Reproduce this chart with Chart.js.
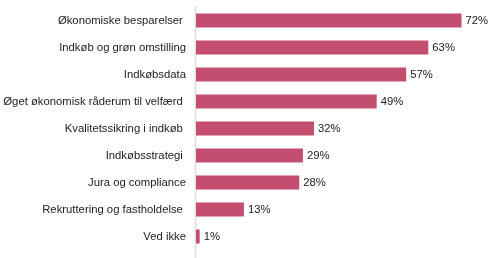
<html>
  <head>
    <script src="https://cdn.jsdelivr.net/npm/chart.js@4/dist/chart.umd.min.js"></script>
    <style>
      body { margin: 0; background: #fff; }
      #wrap { width: 499px; height: 258px; }
    </style>
  </head>
  <body>
    <div id="wrap"><canvas id="bar-chart"></canvas></div>
    <script>
      // categories (trailing spaces kept as in the source labels)
      var categories = [
        'Økonomiske besparelser ',
        'Indkøb og grøn omstilling',
        'Indkøbsdata',
        'Øget økonomisk råderum til velfærd ',
        'Kvalitetssikring i indkøb ',
        'Indkøbsstrategi ',
        'Jura og compliance',
        'Rekruttering og fastholdelse ',
        'Ved ikke'
      ]
      var shares = [72, 63, 57, 49, 32, 29, 28, 13, 1]

      var barColor = '#c44e70'
      var textColor = '#222222'
      var fontFamily = '"Liberation Sans", Arial, sans-serif'
      var fontSize = 11.3

      // value labels at the end of each bar
      var valueLabels = {
        id: 'valueLabels',
        afterDatasetsDraw: function (chart) {
          var ctx = chart.ctx
          var meta = chart.getDatasetMeta(0)
          ctx.save()
          ctx.font = fontSize + 'px ' + fontFamily
          ctx.fillStyle = textColor
          ctx.textAlign = 'left'
          ctx.textBaseline = 'middle'
          meta.data.forEach(function (bar, i) {
            ctx.fillText(shares[i] + '%', bar.x + 4, bar.y + 0.5)
          })
          ctx.restore()
        }
      }

      // grey axis line running down to the bottom edge
      var axisLine = {
        id: 'axisLine',
        beforeDatasetsDraw: function (chart) {
          var ctx = chart.ctx
          var a = chart.chartArea
          ctx.save()
          ctx.strokeStyle = '#e3e3e3'
          ctx.lineWidth = 2
          ctx.beginPath()
          ctx.moveTo(a.left - 0.5, a.top - 1)
          ctx.lineTo(a.left - 0.5, chart.height)
          ctx.stroke()
          ctx.restore()
        }
      }

      new Chart(document.getElementById('bar-chart'), {
        type: 'bar',
        data: {
          labels: categories,
          datasets: [
            {
              data: shares,
              backgroundColor: barColor,
              borderWidth: 0,
              barPercentage: 0.52,
              categoryPercentage: 1
            }
          ]
        },
        plugins: [valueLabels, axisLine],
        options: {
          indexAxis: 'y',
          responsive: true,
          maintainAspectRatio: false,
          animation: false,
          layout: { padding: { top: 7, bottom: 8, left: 0, right: 8 } },
          plugins: {
            legend: { display: false },
            tooltip: { enabled: false }
          },
          scales: {
            x: {
              display: false,
              min: 0,
              max: 80
            },
            y: {
              grid: { display: false, drawTicks: false },
              border: { display: false },
              ticks: {
                padding: 10,
                color: textColor,
                font: { family: fontFamily, size: fontSize }
              },
              afterFit: function (scale) {
                scale.width = 196
                scale.paddingTop = 0
                scale.paddingBottom = 0
              }
            }
          }
        }
      })
    </script>
  </body>
</html>
